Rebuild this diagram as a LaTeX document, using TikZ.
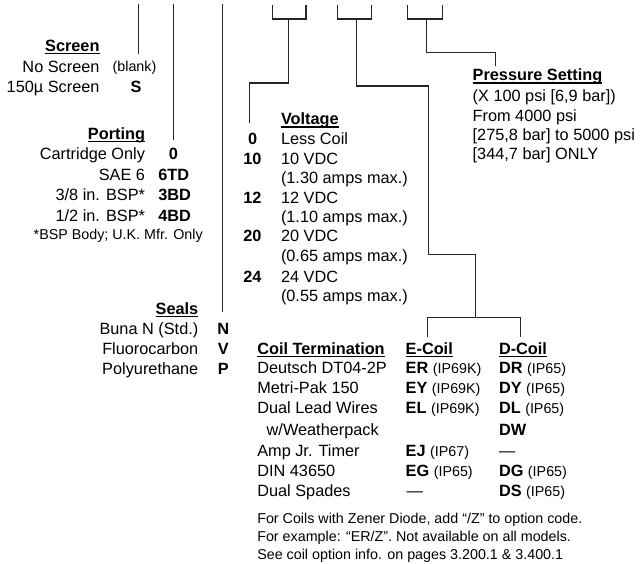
\documentclass[tikz,border=0pt]{standalone}
\usepackage{fontspec}
\setmainfont{Liberation Sans}
\newcommand\mainsz{\fontsize{16.3}{20}\selectfont}
\newcommand\smsz{\fontsize{14.3}{17}\selectfont}
\newcommand\hd[1]{\setbox0\hbox{\bfseries #1}\rlap{\rule[-2.6pt]{\wd0}{1.1pt}}\box0}
\tikzset{
  t/.style={inner sep=0pt, outer sep=0pt, font=\mainsz, text=black},
  tr/.style={t, anchor=base east},
  tl/.style={t, anchor=base west},
  tc/.style={t, anchor=base},
  lead/.style={draw=black!85, line width=1.2pt},
}
\begin{document}
\begin{tikzpicture}[x=1pt,y=-1pt]
\useasboundingbox (0,0) rectangle (640,564);
% ---------- Screen
\node[tr] (scrh) at (99.5,51.5) {\hd{Screen}};
\node[tr] (scr1) at (99.5,72.5) {No Screen};
\node[tr] (scr2) at (99.5,92.5) {150µ Screen};
\node[tc] (scrc1) at (134.5,72) {\smsz (blank)};
\node[tc] (scrc2) at (136,92.5) {\bfseries S};
% ---------- Porting
\node[tr] (porh) at (145,139.5) {\hd{Porting}};
\node[tr] (por1) at (145,160) {Cartridge Only};
\node[tr] (por2) at (145,180.5) {SAE 6};
\node[tr] (por3) at (145,201) {3/8 in. BSP*};
\node[tr] (por4) at (145,221.5) {1/2 in. BSP*};
\node[tr] (porn) at (202.7,239.5) {\smsz *BSP Body; U.K. Mfr. Only};
\node[tc] (porc1) at (173.3,160) {\bfseries 0};
\node[tl] (porc2) at (158.3,180.5) {\bfseries 6TD};
\node[tl] (porc3) at (158.3,201) {\bfseries 3BD};
\node[tl] (porc4) at (158.3,221.5) {\bfseries 4BD};
% ---------- Seals
\node[tr] (seah) at (198.3,314) {\hd{Seals}};
\node[tr] (sea1) at (198.3,334.3) {Buna N (Std.)};
\node[tr] (sea2) at (198.3,354.3) {Fluorocarbon};
\node[tr] (sea3) at (198.3,374.3) {Polyurethane};
\node[tc] (seac1) at (223.3,334.3) {\bfseries N};
\node[tc] (seac2) at (223.3,354.3) {\bfseries V};
\node[tc] (seac3) at (223.3,374.3) {\bfseries P};
% ---------- Voltage
\node[tl] (volh) at (281,125) {\hd{Voltage}};
\node[tl] (vol1) at (281,144.5) {Less Coil};
\node[tl] (vol2) at (281,164.5) {10 VDC};
\node[tl] (vol2b) at (281,183.5) {(1.30 amps max.)};
\node[tl] (vol3) at (281,203.5) {12 VDC};
\node[tl] (vol3b) at (281,222.5) {(1.10 amps max.)};
\node[tl] (vol4) at (281,242) {20 VDC};
\node[tl] (vol4b) at (281,261.5) {(0.65 amps max.)};
\node[tl] (vol5) at (281,282) {24 VDC};
\node[tl] (vol5b) at (281,301.5) {(0.55 amps max.)};
\node[tc] (volc1) at (252.7,144.5) {\bfseries 0};
\node[tl] (volc2) at (243.3,164.5) {\bfseries 10};
\node[tl] (volc3) at (243.3,203.5) {\bfseries 12};
\node[tl] (volc4) at (243.3,242) {\bfseries 20};
\node[tl] (volc5) at (243.3,282) {\bfseries 24};
% ---------- Pressure
\node[tl] (preh) at (472.7,81) {\hd{Pressure Setting}};
\node[tl] (pre1) at (472.7,101.7) {(X 100 psi [6,9 bar])};
\node[tl] (pre2) at (472.7,121.7) {From 4000 psi};
\node[tl] (pre3) at (472.7,141) {[275,8 bar] to 5000 psi};
\node[tl] (pre4) at (472.7,159.5) {[344,7 bar] ONLY};
% ---------- Coil table
\node[tl] (coih) at (257.3,354) {\hd{Coil Termination}};
\node[tl] (eh) at (405.7,354) {\hd{E-Coil}};
\node[tl] (dh) at (499,354) {\hd{D-Coil}};
\node[tl] (c1) at (257.3,373.3) {Deutsch DT04-2P};
\node[tl] (c2) at (257.3,393.3) {Metri-Pak 150};
\node[tl] (c3) at (257.3,413.3) {Dual Lead Wires};
\node[tl] (c3b) at (266.7,435.7) {w/Weatherpack};
\node[tl] (c4) at (257.3,456.7) {Amp Jr. Timer};
\node[tl] (c5) at (257.3,476.7) {DIN 43650};
\node[tl] (c6) at (257.3,496.7) {Dual Spades};
\node[tl] (e1) at (405.7,373.3) {\textbf{ER} {\smsz (IP69K)}};
\node[tl] (e2) at (405.7,393.3) {\textbf{EY} {\smsz (IP69K)}};
\node[tl] (e3) at (405.7,413.3) {\textbf{EL} {\smsz (IP69K)}};
\node[tl] (e4) at (405.7,456.7) {\textbf{EJ} {\smsz (IP67)}};
\node[tl] (e5) at (405.7,476.7) {\textbf{EG} {\smsz (IP65)}};
\node[tl] (e6) at (406.7,496.7) {—};
\node[tl] (d1) at (499,373.3) {\textbf{DR} {\smsz (IP65)}};
\node[tl] (d2) at (499,393.3) {\textbf{DY} {\smsz (IP65)}};
\node[tl] (d3) at (499,413.3) {\textbf{DL} {\smsz (IP65)}};
\node[tl] (d3b) at (499,435.7) {\textbf{DW}};
\node[tl] (d4) at (499,456.7) {—};
\node[tl] (d5) at (499,476.7) {\textbf{DG} {\smsz (IP65)}};
\node[tl] (d6) at (499,496.7) {\textbf{DS} {\smsz (IP65)}};
\node[tl] (n1) at (257.3,523.3) {\smsz For Coils with Zener Diode, add ``/Z'' to option code.};
\node[tl] (n2) at (257.3,541.7) {\smsz For example: ``ER/Z''. Not available on all models.};
\node[tl] (n3) at (257.3,559.3) {\smsz See coil option info. on pages 3.200.1 \& 3.400.1};
% ---------- leader coordinates
\coordinate (scrtop) at (138.7,4);
\coordinate (scrbot) at (138.7,54);
\coordinate (portop) at (173.3,4);
\coordinate (porbot) at (173.3,140);
\coordinate (seatop) at (222.3,4);
\coordinate (seabot) at (222.3,312);
% bracket A (voltage)
\coordinate (a1) at (272.3,5);  \coordinate (a2) at (306,5);
\coordinate (am) at (288.3,19); \coordinate (ab) at (288.3,83);
\coordinate (ac) at (249.3,83); \coordinate (ae) at (249.3,123);
% bracket B (coil)
\coordinate (b1) at (337.7,5);  \coordinate (b2) at (371.7,5);
\coordinate (bm) at (356.7,19); \coordinate (bb) at (356.7,86);
\coordinate (bc) at (428.7,86); \coordinate (bd) at (428.7,254.3);
\coordinate (be) at (475.7,254.3); \coordinate (bf) at (475.7,317.7);
\coordinate (bl) at (427.7,317.7); \coordinate (br) at (520.7,317.7);
\coordinate (ble) at (427.7,336.5); \coordinate (bre) at (520.7,336.5);
% bracket C (pressure)
\coordinate (c1a) at (407.7,5);  \coordinate (c2a) at (442.7,5);
\coordinate (cm) at (426.7,19);  \coordinate (cb) at (426.7,52.7);
\coordinate (cc) at (495.7,52.7); \coordinate (ce) at (495.7,66);
% ---------- leaders
\draw[lead] (scrtop) -- (scrbot);
\draw[lead] (portop) -- (porbot);
\draw[lead] (seatop) -- (seabot);
\draw[lead] (a1) -- (a1 |- am) -- (a2 |- am) -- (a2);
\draw[lead] (am) -- (ab) -- (ac) -- (ae);
\draw[lead] (b1) -- (b1 |- bm) -- (b2 |- bm) -- (b2);
\draw[lead] (bm) -- (bb) -- (bc) -- (bd) -- (be) -- (bf);
\draw[lead] (ble) -- (bl) -- (br) -- (bre);
\draw[lead] (c1a) -- (c1a |- cm) -- (c2a |- cm) -- (c2a);
\draw[lead] (cm) -- (cb) -- (cc) -- (ce);
\end{tikzpicture}
\end{document}
